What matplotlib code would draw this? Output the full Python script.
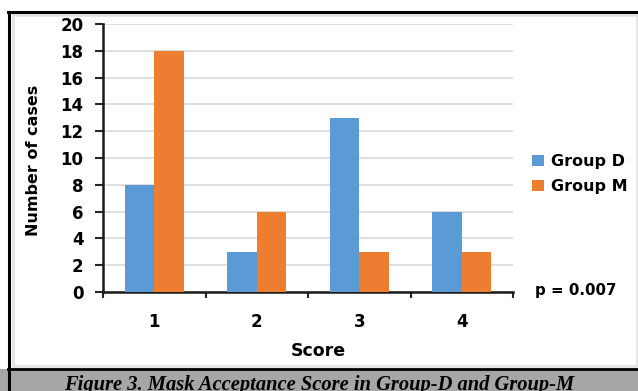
import matplotlib
matplotlib.use("Agg")
import matplotlib.pyplot as plt
from matplotlib.patches import Rectangle
from matplotlib.lines import Line2D
import numpy as np

categories = ["1", "2", "3", "4"]
group_d = [8, 3, 13, 6]
group_m = [18, 6, 3, 3]
series_names = ["Group D", "Group M"]
yticks = [0, 2, 4, 6, 8, 10, 12, 14, 16, 18, 20]
caption = "Figure 3. Mask Acceptance Score in Group-D and Group-M"
ptext = "p = 0.007"

W, H = 638, 391
fig = plt.figure(figsize=(W / 100, H / 100), dpi=100)
fig.patch.set_facecolor("white")

def fx(px):
    return px / W

def fy(py):
    return 1 - py / H

sans = ["DejaVu Sans"]
serif = ["Liberation Serif", "DejaVu Serif"]

# frames
fig.add_artist(Rectangle((fx(13), fy(366)), fx(637) - fx(13), fy(15) - fy(366),
                         transform=fig.transFigure, facecolor="white",
                         edgecolor="#e4e4e4", linewidth=2, zorder=0))
fig.add_artist(Rectangle((0, 0), 1, fy(369), transform=fig.transFigure,
                         facecolor="#a6a6a6", edgecolor="none", zorder=1))
fig.add_artist(Line2D([fx(8), 1], [fy(368.5), fy(368.5)], transform=fig.transFigure,
                      color="black", linewidth=2, zorder=2))
fig.add_artist(Line2D([fx(8), 1], [fy(12), fy(12)], transform=fig.transFigure,
                      color="black", linewidth=2.2, zorder=2))
fig.add_artist(Line2D([fx(8.5), fx(8.5)], [0, fy(12)], transform=fig.transFigure,
                      color="black", linewidth=2.2, zorder=2))

ax = fig.add_axes([fx(103), fy(292), fx(513) - fx(103), fy(24) - fy(292)])
ax.set_zorder(3)
x = np.arange(1, len(categories) + 1)
w = 0.29
ax.bar(x - w / 2, group_d, w, color="#5b9bd5", label=series_names[0], zorder=3)
ax.bar(x + w / 2, group_m, w, color="#ed7d31", label=series_names[1], zorder=3)

ax.set_xlim(0.5, 4.5)
ax.set_ylim(0, 20)
ax.set_yticks(yticks)
ax.set_yticklabels([str(t) for t in yticks], fontfamily=sans, fontweight="bold", fontsize=12)
ax.set_xticks(x)
ax.set_xticklabels(categories, fontfamily=sans, fontweight="bold", fontsize=12)
ax.set_xticks(np.arange(0.5, 4.6, 1), minor=True)
ax.tick_params(axis="x", which="major", length=0, pad=15)
ax.tick_params(axis="x", which="minor", length=4, width=1.5, direction="out", color="#262626")
ax.tick_params(axis="y", which="major", length=6, width=1.5, direction="out", color="#262626", pad=8)
ax.grid(axis="y", color="#d9d9d9", linewidth=1.2, zorder=0)
ax.set_axisbelow(True)
for s in ["top", "right"]:
    ax.spines[s].set_visible(False)
for s in ["left", "bottom"]:
    ax.spines[s].set_linewidth(1.8)
    ax.spines[s].set_color("#1a1a1a")

fig.text(fx(34), fy(160), "Number of cases", rotation=90, ha="center", va="center",
         fontfamily=sans, fontweight="bold", fontsize=11.5)
fig.text(fx(318), fy(351), "Score", ha="center", va="center",
         fontfamily=sans, fontweight="bold", fontsize=12.5)
fig.text(fx(535), fy(290), ptext, ha="left", va="center",
         fontfamily=sans, fontweight="bold", fontsize=10.8)

handles, labels = ax.get_legend_handles_labels()
leg = fig.legend(handles, labels, loc="center left",
                 bbox_to_anchor=(fx(518), fy(174)), frameon=False,
                 prop={"family": sans, "weight": "bold", "size": 11.5},
                 handlelength=0.75, handleheight=0.65, handletextpad=0.4,
                 labelspacing=0.6)

fig.text(0.5, fy(375), caption, ha="center", va="top", fontfamily=serif,
         fontweight="bold", fontstyle="italic", fontsize=14.8, zorder=4)

fig.savefig("out.png", dpi=100)
